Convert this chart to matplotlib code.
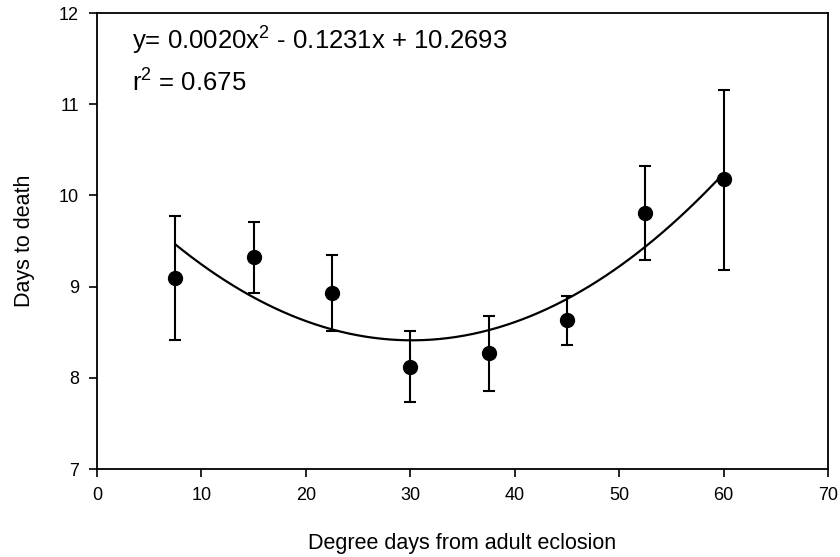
import matplotlib
matplotlib.use("Agg")
import matplotlib.pyplot as plt
import numpy as np

plt.rcParams['font.family'] = ['Liberation Sans', 'DejaVu Sans']
plt.rcParams['mathtext.fontset'] = 'custom'
plt.rcParams['mathtext.rm'] = 'Liberation Sans'
plt.rcParams['mathtext.it'] = 'Liberation Sans'

# degree days vs mean days to death, with error bar ends
degree_days = [7.5, 15, 22.5, 30, 37.5, 45, 52.5, 60]
days_mean = [9.09, 9.32, 8.93, 8.12, 8.27, 8.63, 9.81, 10.18]
err_low = [8.41, 8.93, 8.51, 7.74, 7.85, 8.36, 9.29, 9.18]
err_high = [9.77, 9.71, 9.35, 8.51, 8.68, 8.90, 10.32, 11.16]

eq_text = "y= 0.0020x$^2$ - 0.1231x + 10.2693"
r2_text = "r$^2$ = 0.675"

x = np.array(degree_days)
y = np.array(days_mean)
yerr = [y - np.array(err_low), np.array(err_high) - y]

fig = plt.figure(figsize=(8.4, 5.57), dpi=100)
ax = fig.add_axes([97/840, 1 - 469/557, (828 - 97)/840, (469 - 13)/557])

# quadratic fit through the means
coef = np.polyfit(x, y, 2)
xs = np.linspace(x.min(), x.max(), 200)
ax.plot(xs, np.polyval(coef, xs), color='black', lw=1.6)

ax.errorbar(x, y, yerr=yerr, fmt='o', color='black', ms=10,
            elinewidth=1.5, capsize=4, capthick=1.5)

ax.set_xlim(0, 70)
ax.set_ylim(7, 12)
ax.set_xticks(range(0, 71, 10))
ax.set_yticks(range(7, 13))
ax.tick_params(direction='out', length=6, width=1.2, labelsize=13, pad=7)
for s in ax.spines.values():
    s.set_linewidth(1.3)

ax.set_xlabel("Degree days from adult eclosion", fontsize=15.5, labelpad=21)
ax.set_ylabel("Days to death", fontsize=15.5, labelpad=17)

ax.text(0.048, 0.919, eq_text, transform=ax.transAxes, fontsize=18.5, va='baseline')
ax.text(0.048, 0.827, r2_text, transform=ax.transAxes, fontsize=18.5, va='baseline')

fig.savefig("out.png", dpi=100)
